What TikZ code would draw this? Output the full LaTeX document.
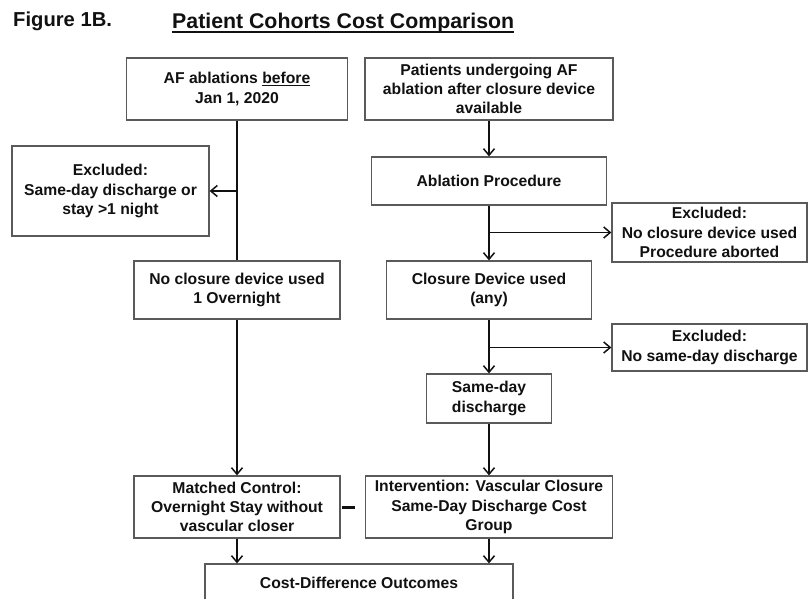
\documentclass[tikz,border=0pt]{standalone}
\usepackage{fontspec}
\setmainfont{Liberation Sans}
\usetikzlibrary{arrows.meta}
\definecolor{boxline}{HTML}{5A5A5A}
\definecolor{ink}{HTML}{111111}
\begin{document}
\begin{tikzpicture}[x=1pt,y=-1pt,
  flowbox/.style={draw=boxline, line width=1.3pt, fill=white, inner sep=0pt,
    align=center, text=ink, font=\bfseries\fontsize{15.7}{19.3}\selectfont},
  conn/.style={draw=ink, line width=1.7pt, -{Straight Barb[length=6.5pt,width=11pt,line width=1.5pt]}},
  plain/.style={draw=ink, line width=1.7pt},
  heading/.style={inner sep=0pt, anchor=base west, text=ink}]
  \useasboundingbox (0,0) rectangle (808,599);
  \clip (0,0) rectangle (808,599);
  \fill[white] (0,0) rectangle (808,599);

  % headings
  \node[heading, font=\bfseries\fontsize{20.2}{24}\selectfont] (fig) at (13,27) {Figure 1B.};
  \node[heading, font=\bfseries\fontsize{21.3}{25}\selectfont] (title) at (172,28.5) {Patient Cohorts Cost Comparison};
  \draw[draw=ink, line width=1.9pt] ([yshift=-3.5pt]title.base west) -- ([yshift=-3.5pt]title.base east);

  % left cohort
  \node[flowbox, minimum width=221pt, minimum height=62pt] (b1) at (237,89)
    {AF ablations \underline{before}\\Jan 1, 2020};
  \node[flowbox, minimum width=197pt, minimum height=90pt] (ex1) at (110.5,191)
    {Excluded:\\Same-day discharge or\\stay >1 night};
  \node[flowbox, minimum width=206pt, minimum height=58pt] (noclos) at (237,290)
    {No closure device used\\1 Overnight};
  \node[flowbox, minimum width=206pt, minimum height=62pt] (matched) at (237,507)
    {Matched Control:\\Overnight Stay without\\vascular closer};

  % right cohort
  \node[flowbox, minimum width=248pt, minimum height=62pt] (b2) at (489,89)
    {Patients undergoing AF\\ablation after closure device\\available};
  \node[flowbox, minimum width=235pt, minimum height=48pt] (abl) at (489,181)
    {Ablation Procedure};
  \node[flowbox, minimum width=195pt, minimum height=59pt] (exA) at (709.5,232.5)
    {Excluded:\\No closure device used\\Procedure aborted};
  \node[flowbox, minimum width=205pt, minimum height=58pt] (clos) at (489,290)
    {Closure Device used\\(any)};
  \node[flowbox, minimum width=195pt, minimum height=47pt] (exB) at (709.5,347.5)
    {Excluded:\\No same-day discharge};
  \node[flowbox, minimum width=125pt, minimum height=49pt] (same) at (489,398.5)
    {Same-day\\discharge};
  \node[flowbox, minimum width=247pt, minimum height=62pt] (interv) at (489,507)
    {Intervention: Vascular Closure\\Same-Day Discharge Cost\\Group};

  % outcome
  \node[flowbox, minimum width=308pt, minimum height=38pt] (cost) at (359,583)
    {Cost-Difference Outcomes};

  % left connectors
  \draw[plain] (b1.south) -- (noclos.north);
  \draw[conn] (b1.south |- ex1.east) -- (ex1.east);
  \draw[conn] (noclos.south) -- (matched.north);
  \draw[conn] (matched.south) -- (matched.south |- cost.north);

  % right connectors
  \draw[conn] (b2.south) -- (abl.north);
  \draw[conn] (abl.south) -- (clos.north);
  \draw[conn] (abl.south |- exA.west) -- (exA.west);
  \draw[conn] (clos.south) -- (same.north);
  \draw[conn] (clos.south |- exB.west) -- (exB.west);
  \draw[conn] (same.south) -- (interv.north);
  \draw[conn] (interv.south) -- (interv.south |- cost.north);

  % pairing mark between the two groups
  \coordinate (pairend) at (355,507);
  \draw[draw=ink, line width=3pt] (matched.east) ++(1,0) -- (pairend);
\end{tikzpicture}
\end{document}
